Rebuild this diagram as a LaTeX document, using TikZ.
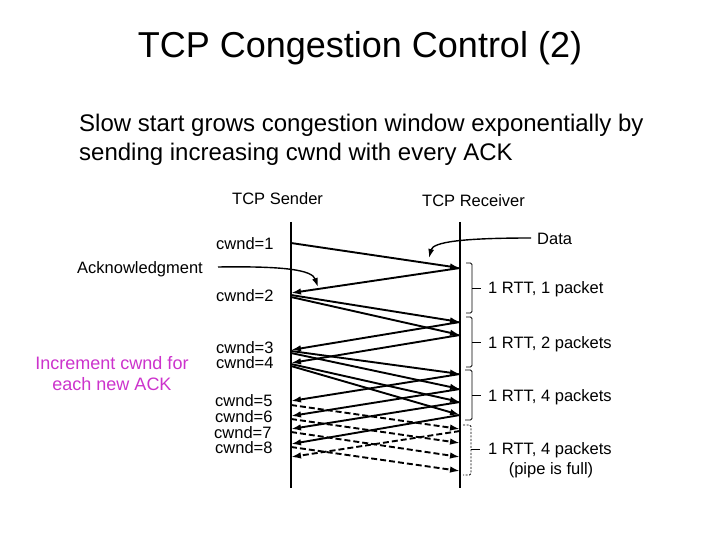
\documentclass[tikz,border=0pt]{standalone}
\usepackage{fontspec}
\setmainfont{Liberation Sans}
\usetikzlibrary{arrows.meta}
\definecolor{incmag}{RGB}{204,51,204}
\begin{document}
\begin{tikzpicture}[x=1pt,y=-1pt,
  txt/.style={inner sep=0pt,anchor=base west},
  dlbl/.style={txt,font=\fontsize{16.5}{20}\selectfont},
  timeline/.style={line width=1.3pt},
  msg/.style={line width=1.9pt,-{Latex[length=10pt,width=6.5pt]}},
  dmsg/.style={msg,dash pattern=on 6pt off 3pt},
  pointer/.style={line width=1.4pt,-{Latex[length=9pt,width=6pt]}},
  rttbrace/.style={line width=0.8pt,rounded corners=1.5pt},
  dbrace/.style={rttbrace,dash pattern=on 2pt off 1.5pt}]
\useasboundingbox (0,0) rectangle (720,540);

% titles
\node[inner sep=0pt,anchor=base,font=\fontsize{36}{40}\selectfont] (title) at (360,58) {TCP Congestion Control (2)};
\node[txt,font=\fontsize{24}{28}\selectfont] (body1) at (79,132) {Slow start grows congestion window exponentially by};
\node[txt,font=\fontsize{24}{28}\selectfont] (body2) at (79,161) {sending increasing cwnd with every ACK};

% headers
\node[dlbl] (sndr) at (232,205) {TCP Sender};
\node[dlbl] (rcvr) at (422,207) {TCP Receiver};

% time lines
\coordinate (st) at (291,222); \coordinate (sb) at (291,488);
\coordinate (rt) at (460,222); \coordinate (rb) at (460,488);
\draw[timeline] (st) -- (sb);
\draw[timeline] (rt) -- (rb);

% cwnd labels
\node[dlbl] (c1) at (216,249) {cwnd=1};
\node[dlbl] (c2) at (216,301) {cwnd=2};
\node[dlbl] (c3) at (216,353) {cwnd=3};
\node[dlbl] (c4) at (216,368) {cwnd=4};
\node[dlbl] (c5) at (215,406) {cwnd=5};
\node[dlbl] (c6) at (215,422) {cwnd=6};
\node[dlbl] (c7) at (214,438) {cwnd=7};
\node[dlbl] (c8) at (215,453) {cwnd=8};
\node[dlbl] (ack) at (77,273) {Acknowledgment};
\node[dlbl] (data) at (537,244) {Data};

% sender points
\coordinate (s1) at (291,243);
\coordinate (s2) at (291,293);
\coordinate (s2a) at (291,295);
\coordinate (s2b) at (291,297);
\coordinate (s3) at (291,350);
\coordinate (s3a) at (291,351);
\coordinate (s3b) at (291,353);
\coordinate (s4) at (291,363);
\coordinate (s4a) at (291,364);
\coordinate (s4b) at (291,366);
\coordinate (s5) at (291,401);
\coordinate (s5a) at (291,405);
\coordinate (s6) at (291,416);
\coordinate (s6a) at (291,419);
\coordinate (s7) at (291,429);
\coordinate (s7a) at (291,432);
\coordinate (s8) at (291,444);
\coordinate (s8a) at (291,447);
\coordinate (s9) at (291,457);
% receiver points
\coordinate (r1) at (460,268);
\coordinate (r2a) at (460,322);
\coordinate (r2b) at (460,335);
\coordinate (r3a) at (460,374);
\coordinate (r3b) at (460,389);
\coordinate (r3c) at (460,402);
\coordinate (r3d) at (460,415);
\coordinate (r4a) at (460,429);
\coordinate (r4ack) at (460,431);
\coordinate (r4b) at (460,443);
\coordinate (r4c) at (460,457);
\coordinate (r4d) at (460,471);

% round 1
\draw[msg] (s1) -- (r1);
\draw[msg] (r1) -- (s2);
% round 2
\draw[msg] (s2a) -- (r2a);
\draw[msg] (s2b) -- (r2b);
\draw[msg] (r2a) -- (s3);
\draw[msg] (r2b) -- (s4);
% round 3
\draw[msg] (s3a) -- (r3a);
\draw[msg] (s3b) -- (r3b);
\draw[msg] (s4a) -- (r3c);
\draw[msg] (s4b) -- (r3d);
\draw[msg] (r3a) -- (s5);
\draw[msg] (r3b) -- (s6);
\draw[msg] (r3c) -- (s7);
\draw[msg] (r3d) -- (s8);
% round 4 (dashed)
\draw[dmsg] (s5a) -- (r4a);
\draw[dmsg] (s6a) -- (r4b);
\draw[dmsg] (s7a) -- (r4c);
\draw[dmsg] (s8a) -- (r4d);
\draw[dmsg] (r4ack) -- (s9);

% pointers
\coordinate (ackstart) at (218,267);
\coordinate (acktip) at (318,287);
\draw[pointer] (ackstart) .. controls (285,266) and (312,270) .. (acktip);
\coordinate (datastart) at (531,238);
\coordinate (datatip) at (429,258);
\draw[pointer] (datastart) .. controls (462,238) and (433,242) .. (datatip);

% RTT braces
\draw[rttbrace] (466,263) -- (472,263) -- (472,313) -- (466,313);
\draw[rttbrace] (472,288) -- (481,288);
\draw[rttbrace] (466,317) -- (472,317) -- (472,367) -- (466,367);
\draw[rttbrace] (472,342) -- (481,342);
\draw[rttbrace] (465,370) -- (472,370) -- (472,420) -- (465,420);
\draw[rttbrace] (472,395) -- (481,395);
\draw[dbrace] (463,425) -- (471,425) -- (471,475) -- (463,475);
\draw[rttbrace] (471,449) -- (480,449);

\node[dlbl] (rtt1) at (488,293) {1 RTT, 1 packet};
\node[dlbl] (rtt2) at (488,348) {1 RTT, 2 packets};
\node[dlbl] (rtt3) at (488,401) {1 RTT, 4 packets};
\node[dlbl] (rtt4) at (488,454) {1 RTT, 4 packets};
\node[inner sep=0pt,anchor=base,font=\fontsize{16.5}{20}\selectfont] (pipe) at (551,474) {(pipe is full)};

% increment note
\node[inner sep=0pt,anchor=base,font=\fontsize{18}{21}\selectfont,text=incmag] (inc1) at (112,369) {Increment cwnd for};
\node[inner sep=0pt,anchor=base,font=\fontsize{18}{21}\selectfont,text=incmag] (inc2) at (112,390) {each new ACK};
\end{tikzpicture}
\end{document}
